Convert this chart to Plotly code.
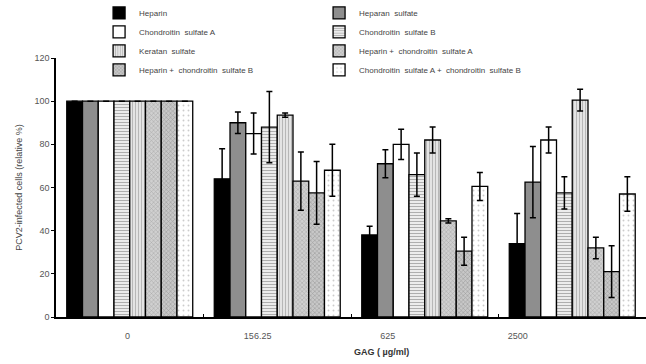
import plotly.graph_objects as go

groups = ["0", "156.25", "625", "2500"]
series_names = [
    "Heparin", "Heparan  sulfate",
    "Chondroitin  sulfate A", "Chondroitin  sulfate B",
    "Keratan  sulfate", "Heparin +  chondroitin  sulfate A",
    "Heparin +  chondroitin  sulfate B", "Chondroitin  sulfate A +  chondroitin  sulfate B",
]
heparin = [100, 64, 38, 34]
heparin_err = [None, 14, 4, 14]
heparan = [100, 90, 71, 62.5]
heparan_err = [None, 5, 6.5, 16.5]
csa = [100, 85, 80, 82]
csa_err = [None, 9.5, 7, 6]
csb = [100, 88, 66, 57.5]
csb_err = [None, 16.5, 10, 7.5]
keratan = [100, 93.5, 82, 100.5]
keratan_err = [None, 1, 6, 5]
hep_csa = [100, 63, 44.5, 32]
hep_csa_err = [None, 13.5, 1, 5]
hep_csb = [100, 57.5, 30.5, 21]
hep_csb_err = [None, 14.5, 6.5, 12]
csa_csb = [100, 68, 60.5, 57]
csa_csb_err = [None, 12, 6.5, 8]

values = [heparin, heparan, csa, csb, keratan, hep_csa, hep_csb, csa_csb]
errors = [heparin_err, heparan_err, csa_err, csb_err, keratan_err, hep_csa_err, hep_csb_err, csa_csb_err]

styles = [
    dict(color="#000000"),
    dict(color="#8e8e8e"),
    dict(color="#ffffff"),
    dict(color="#ffffff", pattern=dict(shape="-", fgcolor="#6a6a6a", bgcolor="#f2f2f2", size=3, solidity=0.4)),
    dict(color="#ffffff", pattern=dict(shape="|", fgcolor="#8a8a8a", bgcolor="#e4e4e4", size=3, solidity=0.35)),
    dict(color="#ffffff", pattern=dict(shape="x", fgcolor="#7a7a7a", bgcolor="#d0d0d0", size=3, solidity=0.3)),
    dict(color="#ffffff", pattern=dict(shape="x", fgcolor="#707070", bgcolor="#c8c8c8", size=3, solidity=0.35)),
    dict(color="#ffffff", pattern=dict(shape=".", fgcolor="#9a9a9a", bgcolor="#ffffff", size=5, solidity=0.12)),
]

x_pos = list(range(len(groups)))
fig = go.Figure()
for name, vals, errs, st in zip(series_names, values, errors, styles):
    marker = dict(line=dict(color="#000000", width=1.3))
    marker.update(st)
    fig.add_trace(go.Bar(
        x=x_pos, y=vals, name=name, marker=marker,
        error_y=dict(type="data", array=errs, visible=True, color="#000000", thickness=1.5, width=3),
    ))

font_family = "Liberation Sans, Arial, sans-serif"
label_step = 0.882  # tick labels in the original are spaced more tightly than the groups
fig.update_layout(
    width=646, height=364,
    margin=dict(l=56, r=0, t=58, b=47, autoexpand=False),
    paper_bgcolor="white", plot_bgcolor="white",
    barmode="group", bargap=0.146, bargroupgap=0,
    font=dict(family=font_family, size=9, color="#444444"),
    showlegend=True,
    legend=dict(
        orientation="h", x=0.073, xanchor="left", y=1.23, yanchor="top",
        entrywidth=175, entrywidthmode="pixels",
        font=dict(size=8, color="#444444"), tracegroupgap=0,
        bgcolor="rgba(0,0,0,0)",
    ),
    xaxis=dict(
        range=[-0.5, 3.5], showgrid=False, zeroline=False, automargin=False,
        showline=True, linecolor="#000000", linewidth=1.5,
        tickvals=[i * label_step - 0.015 for i in range(len(groups))],
        ticktext=groups, ticks="", ticklabelstandoff=9,
        tickfont=dict(size=9, color="#555555"),
        minor=dict(tickvals=[0.5, 1.5, 2.5], ticks="inside", ticklen=3, tickcolor="#000000", tickwidth=1),
    ),
    yaxis=dict(
        range=[0, 120], dtick=20, showgrid=False, zeroline=False, automargin=False,
        showline=True, linecolor="#000000", linewidth=1.5,
        ticks="outside", ticklen=3, tickcolor="#000000", tickwidth=1,
        tickfont=dict(size=9, color="#555555"),
        title=dict(text="PCV2-infected cells (relative %)", font=dict(size=9, color="#444444"), standoff=10),
    ),
    annotations=[dict(
        text="<b>GAG ( µg/ml)</b>", xref="paper", yref="paper",
        x=(382 - 56) / 590, y=-0.135, xanchor="center", yanchor="middle",
        showarrow=False, font=dict(size=9, color="#333333"),
    )],
)

fig.write_html("out.html", config={"displayModeBar": False},
               post_script="document.body.style.margin='0';")
